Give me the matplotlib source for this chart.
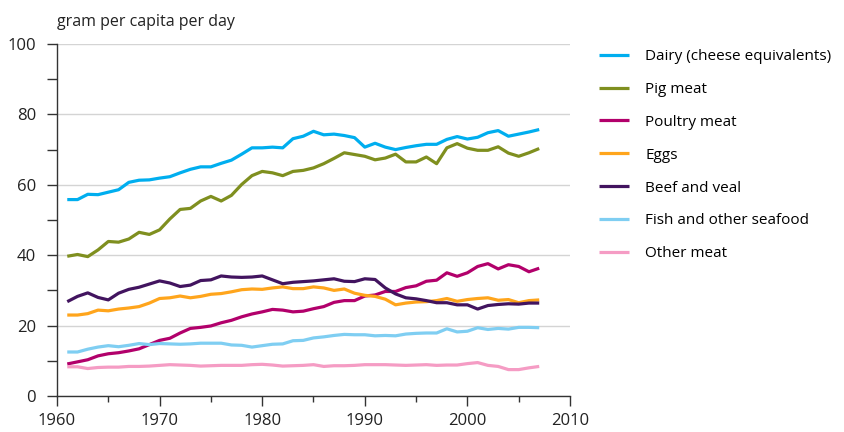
import matplotlib
matplotlib.use("Agg")
import matplotlib.pyplot as plt
from matplotlib.ticker import MultipleLocator

years = list(range(1961, 2008))

dairy = [55.8, 55.8, 57.3, 57.2, 57.9, 58.6, 60.7, 61.3, 61.4, 61.9,
         62.3, 63.4, 64.4, 65.1, 65.1, 66.1, 67.0, 68.7, 70.5, 70.5,
         70.7, 70.5, 73.1, 73.8, 75.2, 74.2, 74.4, 74.0, 73.4, 70.7,
         71.8, 70.7, 70.0, 70.6, 71.1, 71.5, 71.5, 72.9, 73.7, 73.0,
         73.5, 74.8, 75.4, 73.8, 74.4, 75.0, 75.7]
pig = [39.7, 40.2, 39.6, 41.5, 43.9, 43.7, 44.6, 46.5, 45.9, 47.2,
       50.3, 53.0, 53.3, 55.4, 56.7, 55.4, 57.0, 60.1, 62.6, 63.8,
       63.4, 62.6, 63.8, 64.1, 64.8, 66.0, 67.5, 69.1, 68.6, 68.1,
       67.1, 67.6, 68.7, 66.5, 66.5, 67.9, 66.0, 70.5, 71.7, 70.4,
       69.8, 69.8, 70.8, 69.0, 68.1, 69.1, 70.3]
poultry = [9.1, 9.7, 10.3, 11.4, 12.0, 12.3, 12.8, 13.4, 14.6, 15.8,
           16.4, 17.9, 19.2, 19.5, 19.9, 20.8, 21.5, 22.5, 23.3, 23.9,
           24.6, 24.4, 23.9, 24.1, 24.8, 25.4, 26.6, 27.1, 27.1, 28.4,
           28.7, 29.7, 29.7, 30.8, 31.3, 32.6, 32.9, 35.0, 34.0, 35.0,
           36.8, 37.6, 36.1, 37.3, 36.8, 35.3, 36.3]
eggs = [23.0, 23.0, 23.4, 24.4, 24.2, 24.7, 25.0, 25.4, 26.4, 27.7,
        27.9, 28.4, 27.9, 28.3, 28.9, 29.1, 29.6, 30.2, 30.4, 30.3,
        30.7, 31.0, 30.5, 30.5, 31.0, 30.7, 30.0, 30.4, 29.2, 28.6,
        28.3, 27.5, 25.9, 26.4, 26.7, 26.8, 27.1, 27.7, 26.9, 27.4,
        27.7, 27.9, 27.2, 27.4, 26.5, 27.1, 27.3]
beef = [26.8, 28.3, 29.3, 28.0, 27.3, 29.2, 30.3, 30.9, 31.8, 32.7,
        32.1, 31.1, 31.5, 32.8, 33.0, 34.1, 33.8, 33.7, 33.8, 34.1,
        33.0, 31.9, 32.3, 32.5, 32.7, 33.0, 33.3, 32.6, 32.5, 33.3,
        33.1, 30.7, 29.0, 27.9, 27.6, 27.1, 26.5, 26.5, 25.9, 25.9,
        24.7, 25.7, 26.0, 26.2, 26.1, 26.4, 26.4]
fish = [12.5, 12.5, 13.3, 13.9, 14.3, 14.0, 14.4, 14.9, 14.6, 14.9,
        14.8, 14.7, 14.8, 15.0, 15.0, 15.0, 14.5, 14.4, 13.9, 14.3,
        14.7, 14.8, 15.7, 15.8, 16.5, 16.8, 17.2, 17.5, 17.4, 17.4,
        17.1, 17.2, 17.1, 17.6, 17.8, 17.9, 17.9, 19.1, 18.2, 18.4,
        19.4, 18.9, 19.2, 19.0, 19.5, 19.5, 19.4]
other = [8.3, 8.3, 7.8, 8.1, 8.2, 8.2, 8.4, 8.4, 8.5, 8.7,
         8.9, 8.8, 8.7, 8.5, 8.6, 8.7, 8.7, 8.7, 8.9, 9.0,
         8.8, 8.5, 8.6, 8.7, 8.9, 8.4, 8.6, 8.6, 8.7, 8.9,
         8.9, 8.9, 8.8, 8.7, 8.8, 8.9, 8.7, 8.8, 8.8, 9.2,
         9.5, 8.7, 8.4, 7.5, 7.5, 8.0, 8.4]

labels = ["Dairy (cheese equivalents)", "Pig meat", "Poultry meat", "Eggs",
          "Beef and veal", "Fish and other seafood", "Other meat"]
colors = ["#00aeef", "#7f8f1f", "#b2006b", "#ffa51c",
          "#42145f", "#7fcef2", "#f59cc4"]
series = [dairy, pig, poultry, eggs, beef, fish, other]

plt.rcParams['font.family'] = ['Open Sans', 'DejaVu Sans']

fig = plt.figure(figsize=(8.44, 4.32), dpi=100)
ax = fig.add_axes([57 / 844, 1 - 396 / 432, 513 / 844, 352 / 432])

for vals, lab, col in zip(series, labels, colors):
    ax.plot(years, vals, color=col, lw=2.3, label=lab, solid_capstyle='butt')

ax.set_xlim(1960, 2010)
ax.set_ylim(0, 100)
ax.xaxis.set_major_locator(MultipleLocator(10))
ax.xaxis.set_minor_locator(MultipleLocator(5))
ax.yaxis.set_major_locator(MultipleLocator(20))
ax.yaxis.set_minor_locator(MultipleLocator(10))
ax.grid(axis='y', which='major', color='#d4d4d4', lw=1)
ax.set_axisbelow(True)
for s in ['top', 'right']:
    ax.spines[s].set_visible(False)
for s in ['left', 'bottom']:
    ax.spines[s].set_color('#333333')
    ax.spines[s].set_linewidth(1)
ax.tick_params(axis='both', which='major', length=7, width=1, color='#333333',
               labelsize=12, labelcolor='#222222')
ax.tick_params(axis='y', which='major', pad=8)
ax.tick_params(axis='x', which='major', pad=5)
ax.tick_params(axis='y', which='minor', length=7, width=1, color='#333333')
ax.tick_params(axis='x', which='minor', length=4, width=1, color='#333333')

ax.text(0, 1.04, "gram per capita per day", transform=ax.transAxes,
        fontsize=11.5, color='#222222', va='bottom', ha='left')

ax.legend(loc='upper left', bbox_to_anchor=(1.045, 1.003), frameon=False,
          fontsize=11, handlelength=1.95, handletextpad=1.05,
          labelspacing=1.17, borderaxespad=0)

fig.savefig("out.png", dpi=100)
